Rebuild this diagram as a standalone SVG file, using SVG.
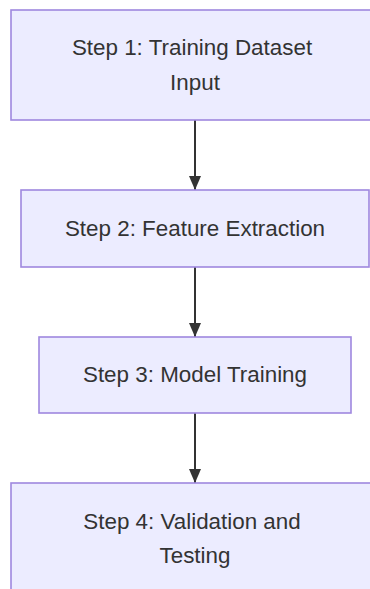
<svg xmlns="http://www.w3.org/2000/svg" width="370" height="589" viewBox="0 0 370 589">
<style>
.box{fill:#ECECFF;stroke:#9F88DF;stroke-width:1.6}
.lbl{font-family:"Liberation Sans",Arial,sans-serif;font-size:22.4px;fill:#333333;text-anchor:middle}
.edge{stroke:#333333;stroke-width:2;fill:none}
</style>
<defs>
<marker id="arr" viewBox="0 0 14 12" refX="14" refY="6" markerWidth="14" markerHeight="12" markerUnits="userSpaceOnUse" orient="auto">
<path d="M0,0 L14,6 L0,12 z" fill="#333333"/>
</marker>
</defs>
<rect width="370" height="589" fill="#ffffff"/>
<g id="edges">
<line class="edge" x1="195" y1="120" x2="195" y2="190" marker-end="url(#arr)"/>
<line class="edge" x1="195" y1="267" x2="195" y2="337" marker-end="url(#arr)"/>
<line class="edge" x1="195" y1="413" x2="195" y2="483" marker-end="url(#arr)"/>
</g>
<g id="step1">
<rect class="box" x="11" y="10" width="368" height="110"/>
<text class="lbl" x="192" y="55">Step 1: Training Dataset</text>
<text class="lbl" x="195" y="90">Input</text>
</g>
<g id="step2">
<rect class="box" x="21" y="190" width="348" height="77"/>
<text class="lbl" x="195" y="236">Step 2: Feature Extraction</text>
</g>
<g id="step3">
<rect class="box" x="39" y="337" width="312" height="76"/>
<text class="lbl" x="195" y="382">Step 3: Model Training</text>
</g>
<g id="step4">
<rect class="box" x="11" y="483" width="368" height="130"/>
<text class="lbl" x="192" y="529">Step 4: Validation and</text>
<text class="lbl" x="195" y="563">Testing</text>
</g>
</svg>
